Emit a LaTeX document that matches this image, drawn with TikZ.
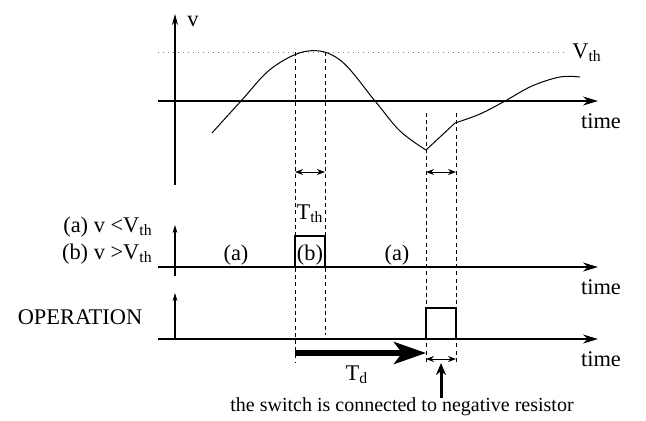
\documentclass[tikz,border=0pt]{standalone}
\usepackage{fontspec}
\setmainfont{Liberation Serif}
\usetikzlibrary{arrows.meta,positioning}

\newcommand{\thsub}[1]{\textsubscript{#1}}

\begin{document}
\begin{tikzpicture}[
  x=0.5pt,y=-0.5pt,
  lbl/.style={font=\fontsize{11.2}{13}\selectfont,inner sep=0pt},
  haxis/.style={-{Stealth[length=7.5pt,width=4.5pt]},line width=0.7pt},
  vaxis/.style={-{Stealth[length=5.5pt,width=3pt]},line width=0.6pt},
  vsml/.style={-{Stealth[length=4pt,width=2.4pt]},line width=0.6pt},
  guide/.style={dashed,dash pattern=on 2pt off 1.6pt,line width=0.45pt},
  span/.style={{Stealth[length=4pt,width=3pt]}-{Stealth[length=4pt,width=3pt]},line width=0.5pt},
  thick arr/.style={-{Stealth[length=16pt,width=11pt,inset=4pt]},line width=2.7pt},
  pulse/.style={draw,line width=0.55pt}
]
\useasboundingbox (0,0) rectangle (646,420);

% --- top plot: v against time
\coordinate (vtop) at (175,14);
\coordinate (vbot) at (175,185);
\coordinate (t1a) at (158,101);
\coordinate (t1b) at (598,101);
\coordinate (tha) at (158,52);
\coordinate (thb) at (568,52);
\draw[vaxis] (vbot) -- (vtop);
\draw[haxis] (t1a) -- (t1b);
\draw[dotted,line width=0.5pt,gray] (tha) -- (thb);
\node[lbl] (vlab) at (193,21) {v};
\node[lbl,anchor=west] (vthlab) at (572,53) {V\thsub{th}};
\node[lbl] (time1) at (601,121) {time};

% signal
\draw[line width=0.5pt] plot[smooth,tension=0.6] coordinates
  {(212,133) (241,101) (272,68) (308,51) (340,60) (375,101) (400,131) (426,150)}
  -- (455,123)
  plot[smooth,tension=0.6] coordinates
  {(455,123) (480,114) (505,101) (532,86) (560,77) (580,77)};

% --- middle plot: state
\coordinate (smidb) at (175,276);
\coordinate (smidt) at (175,225);
\coordinate (t2a) at (158,267);
\coordinate (t2b) at (598,267);
\draw[vsml] (smidb) -- (smidt);
\draw[haxis] (t2a) -- (t2b);
\node[lbl] (time2) at (601,287) {time};
\node[lbl,anchor=east] (cond a) at (153,227) {(a) v <V\thsub{th}};
\node[lbl,anchor=east] (cond b) at (153,254) {(b) v >V\thsub{th}};
\node[lbl] (st a1) at (236,255) {(a)};
\node[lbl] (st b) at (310,255) {(b)};
\node[lbl] (st a2) at (397,255) {(a)};
\node[lbl] (tthlab) at (310,214) {T\thsub{th}};
\draw[pulse] (295,267) |- (325,236) -- (325,267);

% --- bottom plot: operation
\coordinate (sbotb) at (175,339);
\coordinate (sbott) at (175,293);
\coordinate (t3a) at (158,339);
\coordinate (t3b) at (598,339);
\draw[vsml] (sbotb) -- (sbott);
\draw[haxis] (t3a) -- (t3b);
\node[lbl] (time3) at (601,359) {time};
\node[lbl] (oplab) at (80,317) {OPERATION};
\draw[pulse] (426,339) |- (456,308) -- (456,339);

% --- guide lines
\coordinate (g1t) at (295,52);   \coordinate (g1b) at (295,362);
\coordinate (g2t) at (325,52);   \coordinate (g2b) at (325,335);
\coordinate (g3t) at (426,113);  \coordinate (g3b) at (426,365);
\coordinate (g4t) at (456,113);  \coordinate (g4b) at (456,365);
\draw[guide] (g1t) -- (g1b);
\draw[guide] (g2t) -- (g2b);
\draw[guide] (g3t) -- (g3b);
\draw[guide] (g4t) -- (g4b);

% spans
\draw[span] (295,172) -- (325,172);
\draw[span] (426,172) -- (456,172);
\draw[span] (426,359) -- (456,359);

% delay
\coordinate (tds) at (295,353);
\coordinate (tde) at (426,353);
\draw[thick arr] (tds) -- (tde);
\node[lbl] (tdlab) at (357,375) {T\thsub{d}};

% switch note
\node[lbl,font=\fontsize{10}{12}\selectfont] (note) at (402,407) {the switch is connected to negative resistor};
\coordinate (swtip) at (441,363);
\draw[-{Stealth[length=6pt,width=5pt]},line width=1.5pt] (note.north -| swtip) -- (swtip);
\end{tikzpicture}
\end{document}
